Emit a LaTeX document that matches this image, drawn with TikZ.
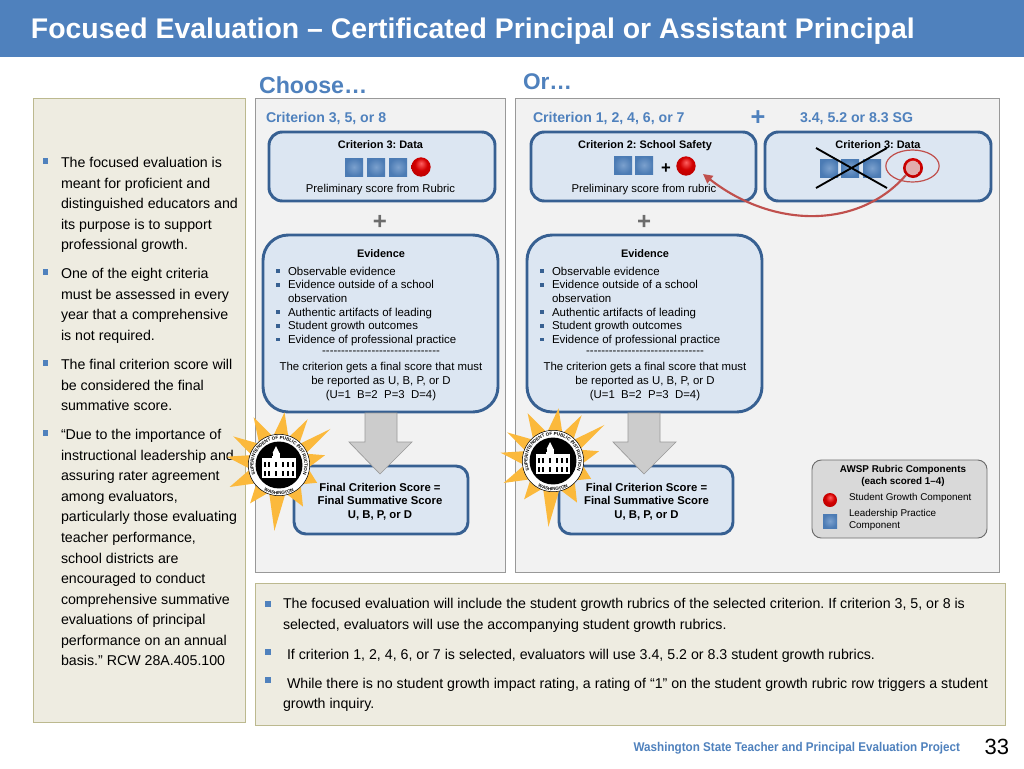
\documentclass[tikz,border=0pt]{standalone}
\usepackage{fontspec}
\setmainfont{Liberation Sans}
\usetikzlibrary{shapes.geometric,arrows.meta,decorations.text,calc}
\definecolor{hdr}{HTML}{4F81BD}
\definecolor{beige}{HTML}{EEECE1}
\definecolor{panelg}{HTML}{F2F2F2}
\definecolor{boxb}{HTML}{DCE6F2}
\definecolor{boxl}{HTML}{376092}
\definecolor{redc}{HTML}{C0504D}
\definecolor{gold}{HTML}{FBB93C}
\newcommand{\px}[2]{\fontsize{#1}{#2}\selectfont}
\pgfdeclareradialshading{redball}{\pgfpoint{0bp}{10bp}}{
 color(0bp)=(red!62!white); color(16bp)=(red!82!black); color(32bp)=(red!72!black); color(42bp)=(red!50!black); color(50bp)=(red!35!black)}
\AtBeginDocument{\frenchspacing}
\tikzset{
 x=0.75pt,y=-0.75pt,
 critbox/.style={draw=boxl,fill=boxb,line width=2.2pt,rounded corners=10pt},
 finalbox/.style={draw=boxl,fill=boxb,line width=2.2pt,rounded corners=9pt},
 evbox/.style={draw=boxl,fill=boxb,line width=2.2pt,rounded corners=19pt},
 sq/.style={rectangle,minimum size=13.5pt,inner sep=0,shade,inner color=hdr!75!white,outer color=hdr!95!black},
 ball/.style={circle,minimum size=14.5pt,inner sep=0,shade,shading=redball},
 bigarrow/.style={draw=gray!80,fill=gray!40,line width=0.5pt},
 txt/.style={inner sep=0,outer sep=0,text=black},
 plusg/.style={txt,text=gray!85!black,font=\bfseries\px{18}{18}},
 crit/.style={txt,text=hdr,font=\bfseries\px{10.6}{12}},
 btitle/.style={txt,font=\bfseries\px{8.2}{10}},
 bbody/.style={txt,font=\px{8.5}{10}},
 side/.style={txt,anchor=north west,align=left,font=\px{10.65}{15.4}},
 bul/.style={rectangle,fill=hdr,inner sep=0,minimum size=4.2pt},
 evbul/.style={rectangle,fill=boxl,inner sep=0,minimum size=2.8pt},
}
\newcommand{\evidence}[2]{%
 \node[btitle] (#1t) at (#2,254) {Evidence};
 \foreach \yy/\ln [count=\i] in {275/Observable evidence,288.5/Evidence outside of a school,302/observation,316/Authentic artifacts of leading,329.5/Student growth outcomes,343/Evidence of professional practice}{
   \node[txt,anchor=base west,font=\px{8.6}{10}] (#1l\i) at (#2-93,\yy) {\ln};
 }
 \foreach \yy/\n in {271/1,285/2,312/4,326/5,339.5/6}{
   \node[evbul] (#1b\n) at (#2-103,\yy) {};
 }
 \node[txt,font=\px{8.55}{10.3}] (#1d) at (#2,353) {-{}-{}-{}-{}-{}-{}-{}-{}-{}-{}-{}-{}-{}-{}-{}-{}-{}-{}-{}-{}-{}-{}-{}-{}-{}-{}-{}-{}-{}-{}-};
 \node[txt,align=center,font=\px{8.55}{10.3}] (#1e) at (#2,381.5) {The criterion gets a final score that must\\be reported as U, B, P, or D\\(U=1\ \ B=2\ \ P=3\ \ D=4)};
}
\newcommand{\seal}[3]{%
 \begin{scope}[shift={(#2,#3)}]
  \fill[gold] (-84:53) -- (-71:29) -- (-58:54) -- (-46:29) -- (-35:63) -- (-23:29) -- (-12:47) -- (6:29) -- (25:42) -- (42:29)
   -- (60:48) -- (77:29) -- (94:66) -- (110:29) -- (127:48) -- (141:29) -- (156:54) -- (172:29) -- (189:53) -- (200:29) -- (212:54) -- (227:29) -- (242:54) -- (258:29) -- cycle;
  \node[circle,fill=white,draw=black,line width=0.4pt,minimum size=46pt,inner sep=0] (#1) at (0,0) {};
  \fill[black] (0,0) circle (17.6pt);
  \path[decorate,decoration={text along path,text align=center,text={|\bfseries\fontsize{3.4}{4}\selectfont|SUPERINTENDENT OF PUBLIC INSTRUCTION}}] (150:25.5) arc[start angle=150,end angle=390,radius=25.5];
  \path[decorate,decoration={text along path,text align=center,text={|\bfseries\fontsize{3.4}{4}\selectfont|WASHINGTON}}] (132:29.8) arc[start angle=132,end angle=48,radius=29.8];
  \fill[white] (-17,-7) rectangle (17,13);
  \fill[white] (-7,-9) rectangle (1,13);
  \fill[white] (-6.5,-12) rectangle (0.5,-8);
  \fill[white] (-3,-19) -- (0.5,-12) -- (-6.5,-12) -- cycle;
  \foreach \a in {-15,-11,-4,3,8,13}{\fill[black] (\a,-3) rectangle (\a+2.2,2);\fill[black] (\a,6) rectangle (\a+2.2,10.5);}
 \end{scope}
}
\begin{document}
\begin{tikzpicture}
\useasboundingbox (0,0) rectangle (1024,768);
\fill[white] (0,0) rectangle (1024,768);
% header
\fill[hdr] (0,0) rectangle (1024,57);
\node[txt,anchor=west,text=white,font=\bfseries\px{21.3}{25}] (title) at (31,31) {Focused Evaluation – Certificated Principal or Assistant Principal};
\node[txt,anchor=west,text=hdr,font=\bfseries\px{17.4}{20}] (choose) at (259,85.5) {Choose…};
\node[txt,anchor=west,text=hdr,font=\bfseries\px{17}{20}] (or) at (523,82) {Or…};
% panels
\draw[draw=gray!60!olive!60,fill=beige,line width=0.6pt] (33,98) rectangle (245,722);
\draw[draw=gray!80,fill=panelg,line width=0.6pt] (255,98) rectangle (505,572);
\draw[draw=gray!80,fill=panelg,line width=0.6pt] (515,98) rectangle (999,572);
\draw[draw=gray!60!olive!60,fill=beige,line width=0.6pt] (255,583) rectangle (1005,725);
% left text
\node[side] (s1) at (61,157.5) {The focused evaluation is\\meant for proficient and\\distinguished educators and\\its purpose is to support\\professional growth.};
\node[side] (s2) at (61,268.5) {One of the eight criteria\\must be assessed in every\\year that a comprehensive\\is not required.};
\node[side] (s3) at (61,359.5) {The final criterion score will\\be considered the final\\summative score.};
\node[side] (s4) at (61,429.5) {“Due to the importance of\\instructional leadership and\\assuring rater agreement\\among evaluators,\\particularly those evaluating\\teacher performance,\\school districts are\\encouraged to conduct\\comprehensive summative\\evaluations of principal\\performance on an annual\\basis.” RCW 28A.405.100};
\foreach \yy/\n in {161/1,272/2,363/3,433/4}{\node[bul] (sb\n) at (45.5,\yy) {};}
% criterion headings
\node[crit,anchor=west] (h1) at (266,118.5) {Criterion 3, 5, or 8};
\node[crit,anchor=west] (h2) at (533,118.5) {Criterion 1, 2, 4, 6, or 7};
\node[txt,text=hdr,font=\bfseries\px{19}{19}] (hp) at (758,118) {+};
\node[crit,anchor=west] (h3) at (800,118.5) {3.4, 5.2 or 8.3 SG};
% criterion boxes
\draw[critbox] (269,132) rectangle (495,201);
\draw[critbox] (531,132) rectangle (756,201);
\draw[critbox] (765,132) rectangle (991,201);
\node[btitle] (c1t) at (380.5,145) {Criterion 3: Data};
\node[sq] (a1) at (354,167) {};
\node[sq] (a2) at (376,167) {};
\node[sq] (a3) at (398,167) {};
\node[ball] (a4) at (421,167) {};
\node[bbody] (c1b) at (380.5,189.5) {Preliminary score from Rubric};
\node[btitle] (c2t) at (645,146) {Criterion 2: School Safety};
\node[sq] (b1) at (623,165) {};
\node[sq] (b2) at (644,165) {};
\node[txt,font=\bfseries\px{12.5}{12}] (bp) at (666,169) {+};
\node[ball] (b4) at (686,166) {};
\node[bbody] (c2b) at (644,189.5) {Preliminary score from rubric};
\node[btitle] (c3t) at (878,145) {Criterion 3: Data};
\node[sq] (d1) at (829,168) {};
\node[sq] (d2) at (850,168) {};
\node[sq] (d3) at (872,168) {};
\node[ball,minimum size=15pt] (d4) at (913,168) {};
\begin{scope}
 \clip (d4.center) circle (5.4pt);
 \fill[redc!30!white] (d4.center) circle (5.4pt);
 \foreach \xx in {-8,-6,...,8}{\foreach \yy in {-8,-6,...,8}{\fill[redc] ([shift={(\xx,\yy)}]d4.center) circle (0.45pt);}}
\end{scope}
\node[draw=redc,line width=0.9pt,ellipse,minimum width=40pt,minimum height=24pt,inner sep=0] (circ) at (912.5,166) {};
\coordinate (x1a) at (816,148);
\coordinate (x1b) at (887,188);
\coordinate (x2a) at (816,188);
\coordinate (x2b) at (887,148);
\draw[black,line width=1.4pt] (x1a) -- (x1b);
\draw[black,line width=1.4pt] (x2a) -- (x2b);
\coordinate (tipr) at (703,174);
\draw[redc,line width=1.6pt,-{Triangle[length=7pt,width=7pt]}] (d4.south west) .. controls (860,228) and (775,230) .. (tipr);
% pluses
\node[plusg] (p1) at (380,222) {+};
\node[plusg] (p2) at (644,222) {+};
% evidence
\draw[evbox] (263,235) rectangle (498,412);
\draw[evbox] (527,235) rectangle (762,412);
\evidence{e1}{381}
\evidence{e2}{645}
% final boxes
\draw[finalbox] (294,466) rectangle (468,534);
\draw[finalbox] (559,466) rectangle (733,534);
\node[txt,align=center,font=\bfseries\px{8.5}{10.2}] (f1) at (380,501.5) {Final Criterion Score =\\Final Summative Score\\U, B, P, or D};
\node[txt,align=center,font=\bfseries\px{8.5}{10.2}] (f2) at (646.5,501.5) {Final Criterion Score =\\Final Summative Score\\U, B, P, or D};
% arrows
\draw[bigarrow] (365,413) -- (397,413) -- (397,442) -- (412,442) -- (380,474) -- (349,442) -- (365,442) -- cycle;
\draw[bigarrow] (628,413) -- (660,413) -- (660,442) -- (676,442) -- (644,474) -- (613,442) -- (628,442) -- cycle;
% seals
\seal{sealA}{279}{465}
\seal{sealB}{553}{461}
% legend
\draw[draw=gray!85!black,fill=gray!30,line width=0.7pt,rounded corners=7pt] (812,460) rectangle (987,538);
\node[txt,align=center,font=\bfseries\px{7.4}{9.2}] (lg) at (903,476) {AWSP Rubric Components\\(each scored 1–4)};
\node[ball,minimum size=10.5pt] (lb) at (830,500) {};
\node[sq,minimum size=10.5pt] (ls) at (830,521) {};
\node[txt,anchor=west,font=\px{7.4}{9}] (ll1) at (849,498) {Student Growth Component};
\node[txt,anchor=west,align=left,font=\px{7.4}{9}] (ll2) at (849,519.5) {Leadership Practice\\Component};
% bottom text
\node[side] (t1) at (283,598.5) {The focused evaluation will include the student growth rubrics of the selected criterion. If criterion 3, 5, or 8 is\\selected, evaluators will use the accompanying student growth rubrics.};
\node[side] (t2) at (287,649) {If criterion 1, 2, 4, 6, or 7 is selected, evaluators will use 3.4, 5.2 or 8.3 student growth rubrics.};
\node[side] (t3) at (287,678) {While there is no student growth impact rating, a rating of “1” on the student growth rubric row triggers a student};
\node[side] (t4) at (283,698) {growth inquiry.};
\foreach \yy/\n in {604/1,652/2,680/3}{\node[bul] (tb\n) at (268,\yy) {};}
% footer
\node[txt,anchor=east,text=hdr,xscale=0.92,font=\bfseries\px{9.5}{11}] (foot) at (960,748) {Washington State Teacher and Principal Evaluation Project};
\node[txt,anchor=east,font=\px{16.5}{20}] (num) at (1009,747) {33};
\end{tikzpicture}
\end{document}
